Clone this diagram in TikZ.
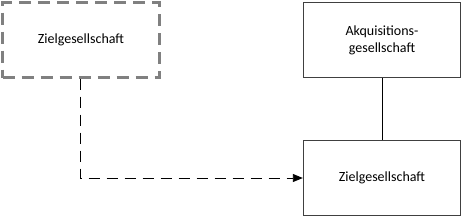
\documentclass[tikz,border=0pt]{standalone}
\usepackage{fontspec}
\setmainfont{Carlito}
\usetikzlibrary{arrows.meta,positioning}
\definecolor{framecolor}{RGB}{64,64,64}
\definecolor{dashcolor}{RGB}{128,128,128}

\begin{document}
\begin{tikzpicture}[
    x=1pt,y=-1pt,
    every node/.style={font=\fontsize{14}{17}\selectfont,align=center},
    box/.style={draw=framecolor,line width=1.4pt,minimum width=157pt,
                minimum height=75pt,inner sep=0pt},
    targetbox/.style={box,draw=dashcolor,line width=2.2pt,
                      dash pattern=on 12pt off 7pt},
    arrow/.style={-{Triangle[length=10pt,width=8pt]},line width=0.9pt,
                  dash pattern=on 11pt off 7pt},
    link/.style={line width=0.9pt}
]
\useasboundingbox (0,0) rectangle (462,218);
\node[targetbox] (target) at (81,40) {Zielgesellschaft};
\node[box] (acq) at (382,40) {Akquisitions-\\gesellschaft};
\node[box] (newtarget) at (382,178) {Zielgesellschaft};

\draw[arrow] (target.south -| 80,0) |- (newtarget.west);
\draw[link] (acq) -- (newtarget);
\end{tikzpicture}
\end{document}
